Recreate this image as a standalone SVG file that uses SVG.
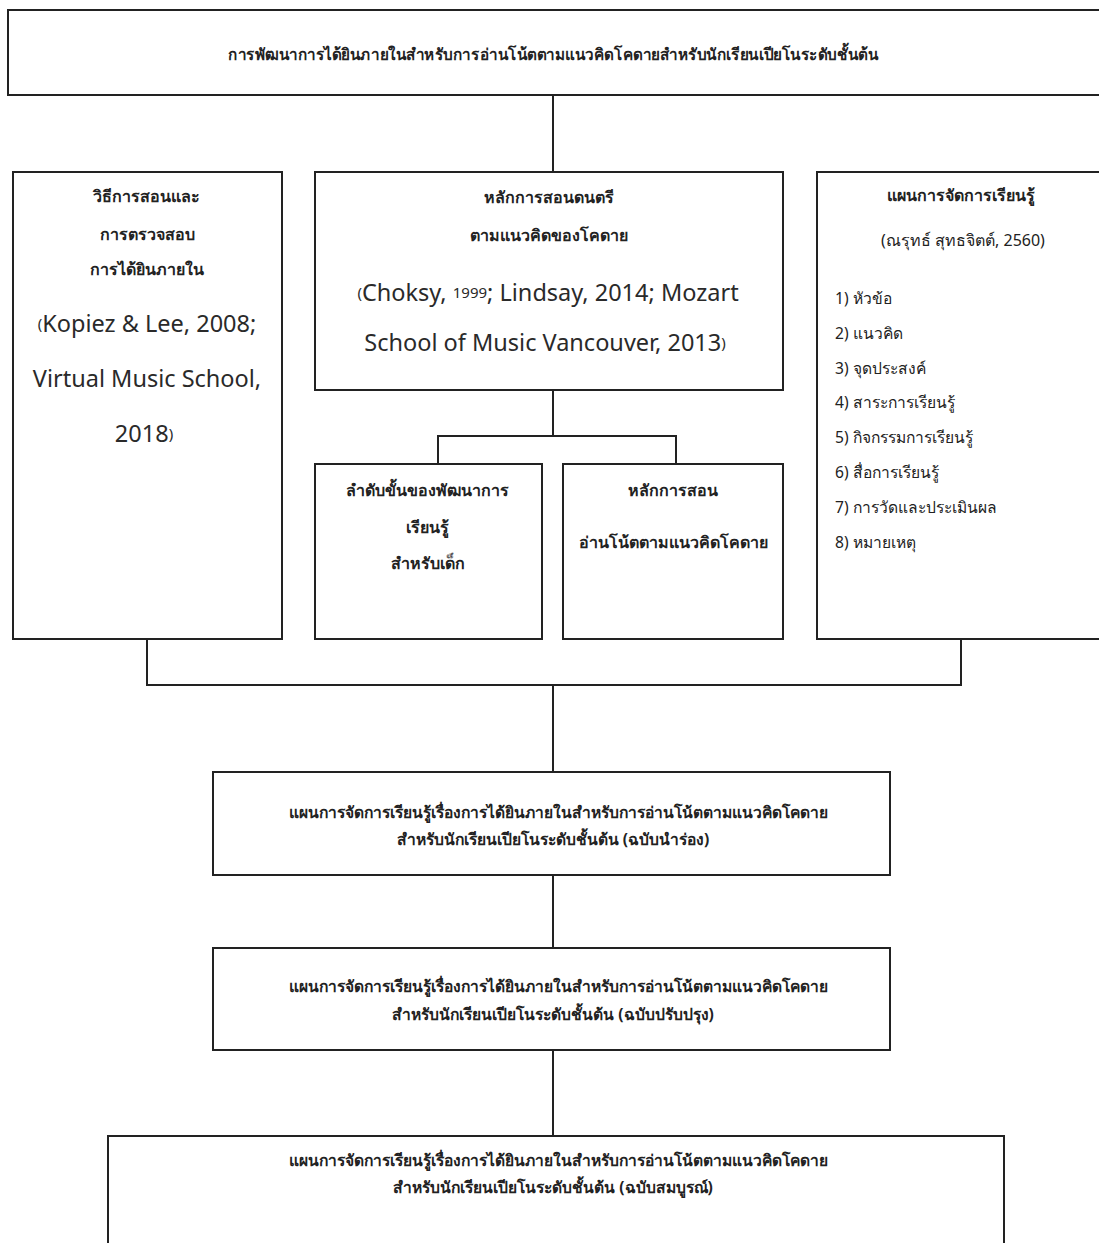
<svg xmlns="http://www.w3.org/2000/svg" width="1099" height="1243" viewBox="0 0 1099 1243">
<style>
.box{fill:#fff;stroke:#222;stroke-width:2}
.ln{fill:none;stroke:#222;stroke-width:2}
.th{font-family:"Noto Sans","DejaVu Sans",sans-serif;fill:#222;text-anchor:middle;dominant-baseline:central}
.b{font-weight:bold;font-size:16px}
.bl{font-weight:bold;font-size:15.6px}
.r{font-size:16px}
.en{font-family:"Noto Sans","Open Sans",sans-serif;font-size:23.5px;fill:#2a2a2a;text-anchor:middle;dominant-baseline:central}
.sm{font-size:15px}
.li{font-family:"Noto Sans","DejaVu Sans",sans-serif;font-size:15.6px;fill:#222;dominant-baseline:central}
</style>
<rect width="1099" height="1243" fill="#fff"/>
<g id="connectors">
<path class="ln" d="M553 95V172"/>
<path class="ln" d="M553 390V436M438 464V436H676V464"/>
<path class="ln" d="M147 639V685H961V639M553 685V772"/>
<path class="ln" d="M553 875V948"/>
<path class="ln" d="M553 1050V1136"/>
</g>
<g id="top">
<rect class="box" x="8" y="10" width="1100" height="85"/>
<text class="th b" x="553" y="54" textLength="650" lengthAdjust="spacingAndGlyphs">การพัฒนาการได้ยินภายในสำหรับการอ่านโน้ตตามแนวคิดโคดายสำหรับนักเรียนเปียโนระดับชั้นต้น</text>
</g>
<g id="left">
<rect class="box" x="13" y="172" width="269" height="467"/>
<text class="th b" x="146" y="196">วิธีการสอนและ</text>
<text class="th b" x="147" y="234">การตรวจสอบ</text>
<text class="th b" x="147" y="269">การได้ยินภายใน</text>
<text class="en" x="147" y="323"><tspan class="sm">(</tspan>Kopiez &amp; Lee, 2008;</text>
<text class="en" x="147" y="378">Virtual Music School,</text>
<text class="en" x="144" y="433">2018<tspan class="sm">)</tspan></text>
</g>
<g id="center">
<rect class="box" x="315" y="172" width="468" height="218"/>
<text class="th b" x="549" y="197">หลักการสอนดนตรี</text>
<text class="th b" x="549" y="235">ตามแนวคิดของโคดาย</text>
<text class="en" x="548" y="292"><tspan class="sm">(</tspan>Choksy, <tspan class="sm">1999</tspan>; Lindsay, 2014; Mozart</text>
<text class="en" x="545" y="342">School of Music Vancouver, 2013<tspan class="sm">)</tspan></text>
</g>
<g id="right">
<rect class="box" x="817" y="172" width="300" height="467"/>
<text class="th b" x="961" y="195">แผนการจัดการเรียนรู้</text>
<text class="th r" x="963" y="240">(ณรุทธ์ สุทธจิตต์, 2560)</text>
<text class="li" x="835" y="298">1) หัวข้อ</text>
<text class="li" x="835" y="333">2) แนวคิด</text>
<text class="li" x="835" y="368">3) จุดประสงค์</text>
<text class="li" x="835" y="402">4) สาระการเรียนรู้</text>
<text class="li" x="835" y="437">5) กิจกรรมการเรียนรู้</text>
<text class="li" x="835" y="472">6) สื่อการเรียนรู้</text>
<text class="li" x="835" y="507">7) การวัดและประเมินผล</text>
<text class="li" x="835" y="542">8) หมายเหตุ</text>
</g>
<g id="sub-left">
<rect class="box" x="315" y="464" width="227" height="175"/>
<text class="th b" x="427" y="490">ลำดับขั้นของพัฒนาการ</text>
<text class="th b" x="427" y="527">เรียนรู้</text>
<text class="th b" x="428" y="563">สำหรับเด็ก</text>
</g>
<g id="sub-right">
<rect class="box" x="563" y="464" width="220" height="175"/>
<text class="th b" x="673" y="490">หลักการสอน</text>
<text class="th b" x="673" y="542">อ่านโน้ตตามแนวคิดโคดาย</text>
</g>
<g id="plan-pilot">
<rect class="box" x="213" y="772" width="677" height="103"/>
<text class="th bl" x="558" y="812">แผนการจัดการเรียนรู้เรื่องการได้ยินภายในสำหรับการอ่านโน้ตตามแนวคิดโคดาย</text>
<text class="th bl" x="553" y="839">สำหรับนักเรียนเปียโนระดับชั้นต้น (ฉบับนำร่อง)</text>
</g>
<g id="plan-revised">
<rect class="box" x="213" y="948" width="677" height="102"/>
<text class="th bl" x="558" y="986">แผนการจัดการเรียนรู้เรื่องการได้ยินภายในสำหรับการอ่านโน้ตตามแนวคิดโคดาย</text>
<text class="th bl" x="553" y="1014">สำหรับนักเรียนเปียโนระดับชั้นต้น (ฉบับปรับปรุง)</text>
</g>
<g id="plan-final">
<rect class="box" x="108" y="1136" width="896" height="150"/>
<text class="th bl" x="558" y="1160">แผนการจัดการเรียนรู้เรื่องการได้ยินภายในสำหรับการอ่านโน้ตตามแนวคิดโคดาย</text>
<text class="th bl" x="553" y="1187">สำหรับนักเรียนเปียโนระดับชั้นต้น (ฉบับสมบูรณ์)</text>
</g>
</svg>
